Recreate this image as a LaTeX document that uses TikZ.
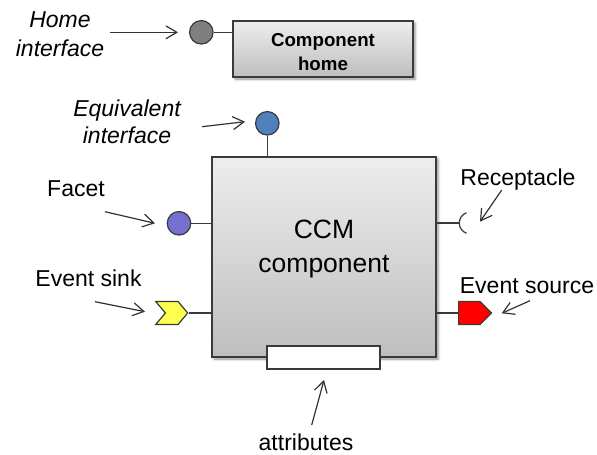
\documentclass[tikz,border=0pt]{standalone}
\usepackage{fontspec}
\setmainfont{Liberation Sans}
\usetikzlibrary{arrows.meta,shapes.symbols,shadows.blur}

\definecolor{edgegray}{HTML}{3A3A3A}
\definecolor{homegray}{HTML}{7F7F7F}
\definecolor{eqblue}{HTML}{4F81BD}
\definecolor{facetviolet}{HTML}{7570D0}
\definecolor{sinkyellow}{HTML}{FFFF50}
\definecolor{srcred}{HTML}{FF0000}
\definecolor{boxtop}{HTML}{EDEDED}
\definecolor{boxbottom}{HTML}{BEBEBE}

\tikzset{
  lbl/.style={font=\fontsize{23}{28}\selectfont, text=black, inner sep=0pt},
  ilbl/.style={lbl, align=center, font=\fontsize{23}{28}\selectfont\itshape},
  ptr/.style={draw=black!80, line width=1.2pt,
    -{Straight Barb[length=11pt,width=13pt,line width=1.2pt]}},
  wire/.style={draw=edgegray, line width=1.2pt},
  portdot/.style={circle, draw=edgegray, line width=1.2pt, minimum size=23.5pt, inner sep=0pt},
  compbox/.style={draw=edgegray, line width=1.8pt, inner sep=0pt,
    top color=boxtop, bottom color=boxbottom,
    blur shadow={shadow xshift=2pt, shadow yshift=-2pt, shadow blur radius=2.5pt, shadow opacity=45}},
  eventport/.style={signal, draw=edgegray, line width=1.2pt, inner sep=0pt,
    minimum height=23pt},
}

\begin{document}
\begin{tikzpicture}[x=1pt,y=-1pt]
\useasboundingbox (0,0) rectangle (597,455);

% component home and its home interface
\node[compbox, minimum width=180pt, minimum height=56pt] (home) at (323,49) {};
\node[font=\fontsize{18.7}{24}\selectfont\bfseries, align=center, inner sep=0pt] (hometxt) at (323,52.3) {Component\\home};
\node[portdot, fill=homegray] (hif) at (201.3,32.3) {};
\draw[wire] (hif) -- (hif -| home.west);
\node[ilbl, font=\fontsize{23}{28.4}\selectfont\itshape] (hiflbl) at (60,34.2) {Home\\interface};
\coordinate (hifa) at (110,32.3);
\draw[ptr] (hifa) -- (178,32.3);

% the CCM component body
\node[compbox, minimum width=224pt, minimum height=200pt] (ccm) at (324,257) {};
\node[font=\fontsize{26.5}{34}\selectfont, align=center, inner sep=0pt] (ccmtxt) at (324,249.3) {CCM\\component};

% attributes slot on the lower edge
\node[draw=edgegray, line width=1.3pt, fill=white, minimum width=113pt, minimum height=23pt, inner sep=0pt] (attr) at (323.5,357.5) {};
\node[lbl, anchor=base] (attrlbl) at (306,450) {attributes};
\coordinate (attra) at (311.7,425);
\draw[ptr] (attra) -- (324,380);

% equivalent interface
\node[portdot, fill=eqblue] (eq) at (267.3,123.3) {};
\draw[wire] (eq) -- (eq |- ccm.north);
\node[ilbl, font=\fontsize{23}{26.6}\selectfont\itshape] (eqlbl) at (127,121.6) {Equivalent\\interface};
\coordinate (eqa) at (202,126.7);
\draw[ptr] (eqa) -- (245,121.7);

% facet
\node[portdot, fill=facetviolet] (facet) at (179,223.3) {};
\draw[wire] (facet) -- (facet -| ccm.west);
\node[lbl, anchor=base] (facetlbl) at (76,196) {Facet};
\coordinate (faceta) at (105,211.7);
\draw[ptr] (faceta) -- (155,223.3);

% event sink
\node[eventport, fill=sinkyellow, signal from=west, signal to=east,
      signal pointer angle=100, minimum width=32pt, anchor=east] (sink) at (188.5,313) {};
\draw[wire] (sink.east) -- (sink -| ccm.west);
\node[lbl, anchor=base] (sinklbl) at (88.5,286) {Event sink};
\coordinate (sinka) at (95,301.7);
\draw[ptr] (sinka) -- (145,311.7);

% receptacle
\coordinate (rcp) at (459.3,223);
\draw[wire] (rcp -| ccm.east) -- (rcp);
\draw[wire] (rcp) arc[start angle=180, end angle=110, radius=10.9];
\draw[wire] (rcp) arc[start angle=180, end angle=250, radius=10.9];
\node[lbl, anchor=base] (rcplbl) at (518,185) {Receptacle};
\coordinate (rcpa) at (501.7,190);
\draw[ptr] (rcpa) -- (480,221.7);

% event source
\node[eventport, fill=srcred, signal from=nowhere, signal to=east,
      signal pointer angle=90, minimum width=33pt, anchor=west] (src) at (458,313) {};
\draw[wire] (src.west) -- (src -| ccm.east);
\node[lbl, anchor=base] (srclbl) at (527,293) {Event source};
\coordinate (srca) at (530,300.7);
\draw[ptr] (srca) -- (501.7,313.3);
\end{tikzpicture}
\end{document}
